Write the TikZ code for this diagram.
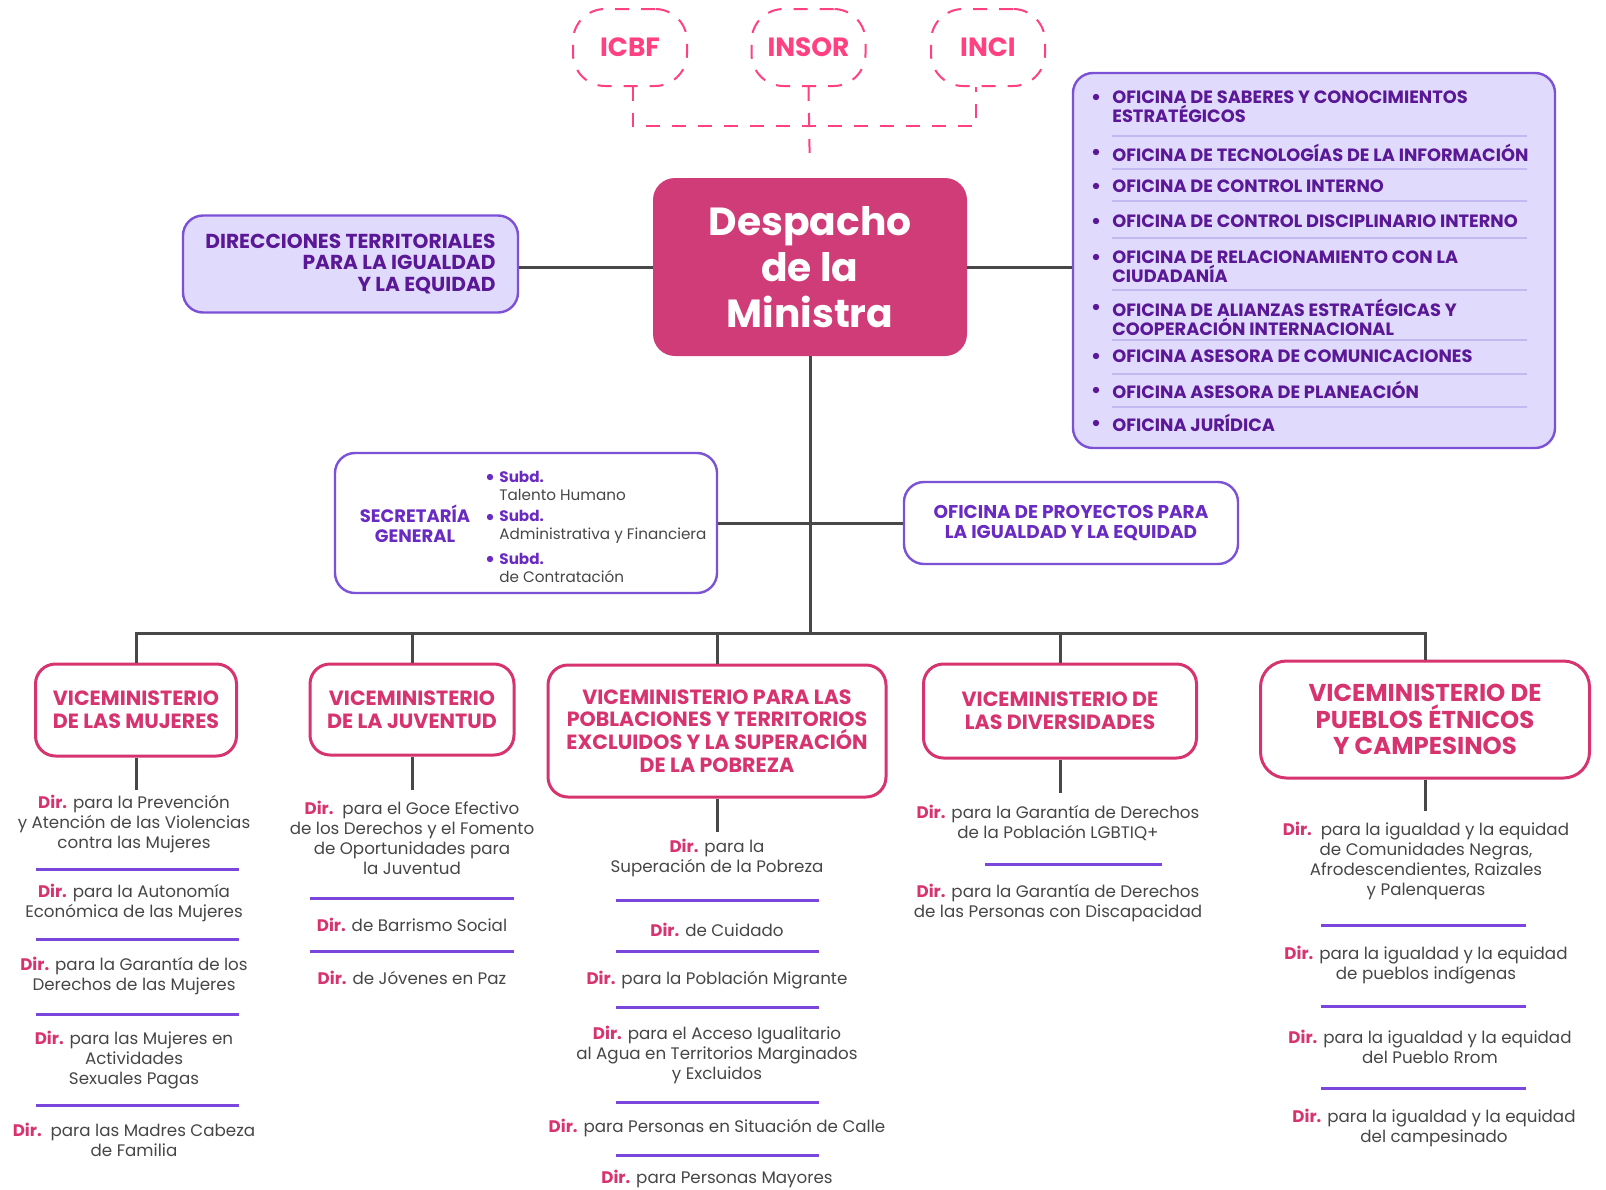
\documentclass[tikz,border=0pt]{standalone}
\usepackage{fontspec}
\setmainfont{Poppins}
\usetikzlibrary{positioning}

\definecolor{rosa}{RGB}{214,51,111}
\definecolor{fucsia}{RGB}{208,60,120}
\definecolor{rosaviva}{RGB}{255,64,129}
\definecolor{morado}{RGB}{90,24,150}
\definecolor{violeta}{RGB}{106,43,194}
\definecolor{borde}{RGB}{123,82,214}
\definecolor{lila}{RGB}{224,218,252}
\definecolor{gris}{RGB}{70,70,70}
\definecolor{grafito}{RGB}{72,72,72}
\definecolor{violetaraya}{RGB}{122,70,220}
\definecolor{lilaraya}{RGB}{196,184,240}

\newcommand{\dirn}{\textcolor{rosa}{\bfseries Dir.}}

\begin{document}
\begin{tikzpicture}[x=0.5pt, y=-0.5pt,
	ente/.style={draw=rosaviva, line width=1pt, dash pattern=on 7pt off 6pt, rounded corners=16pt,
		minimum width=57pt, minimum height=38.5pt, inner sep=0pt, text=rosaviva, font=\bfseries\fontsize{13.2}{15}\selectfont},
	guion/.style={draw=rosaviva, line width=1pt, dash pattern=on 7pt off 6pt},
	enlace/.style={draw=grafito, line width=1.5pt},
	cajalila/.style={draw=borde, fill=lila, line width=1.2pt, rounded corners=10pt, text=morado, inner sep=0pt},
	cajablanca/.style={draw=borde, fill=white, line width=1.2pt, rounded corners=10pt, text=violeta, inner sep=0pt},
	vice/.style={draw=rosa, fill=white, line width=1.5pt, rounded corners=10pt, text=rosa, align=center,
		inner sep=0pt, font=\bfseries\fontsize{10.3}{11.3}\selectfont},
	ofi/.style={anchor=west, align=left, inner sep=0pt, text=morado, font=\bfseries\fontsize{8.9}{9.6}\selectfont},
	subd/.style={anchor=west, align=left, inner sep=0pt, text=gris, font=\fontsize{7.6}{9}\selectfont},
	dir/.style={align=center, inner sep=0pt, text=gris, font=\fontsize{8.35}{10}\selectfont},
	separador/.style={draw=violetaraya, line width=1.5pt},
	separadorfino/.style={draw=lilaraya, line width=0.6pt}]
	%\draw[help lines] (0,0) grid[step=100] (1606,1189);
	\path[fill=white, use as bounding box] (0,0) rectangle (1606,1189);

	% despacho y entes adscritos
	\node[fill=fucsia, rounded corners=11pt, minimum width=157pt, minimum height=89pt, inner sep=0pt,
		text=white, align=center, font=\bfseries\fontsize{19.6}{23}\selectfont] (desp) at (810,267) {Despacho\\de la\\Ministra};
	\node[ente] (icbf) at (630,47.5) {ICBF};
	\node[ente] (insor) at (808.5,47.5) {INSOR};
	\node[ente] (inci) at (988,47.5) {INCI};
	\draw[guion] ([xshift=1.5pt]icbf.south) -- ++(0,39) -| ([xshift=-6pt]inci.south);
	\draw[guion, shorten >=6.5pt] (insor.south) -- (desp.north);

	% lados del despacho
	\node[cajalila, minimum width=167.5pt, minimum height=48.5pt, align=right,
		font=\bfseries\fontsize{10.1}{10.6}\selectfont] (dirt) at (350.5,264) {DIRECCIONES TERRITORIALES\\PARA LA IGUALDAD\\Y LA EQUIDAD};
	\node[cajalila, minimum width=241pt, minimum height=187.5pt] (ofic) at (1314,260.5) {};
	\draw[enlace] (desp.west) -- (desp.west -| dirt.east);
	\draw[enlace] (desp.east) -- (desp.east -| ofic.west);

	\fill[morado] (1096,97) circle (1.6pt) (1096,152) circle (1.6pt) (1096,186) circle (1.6pt)
		(1096,221) circle (1.6pt) (1096,257) circle (1.6pt) (1096,307) circle (1.6pt)
		(1096,356) circle (1.6pt) (1096,390) circle (1.6pt) (1096,423) circle (1.6pt);
	\draw[separadorfino] (1112,136) -- +(415,0) (1112,169) -- +(415,0) (1112,201) -- +(415,0)
		(1112,238) -- +(415,0) (1112,290) -- +(415,0) (1112,340) -- +(415,0)
		(1112,374) -- +(415,0) (1112,407) -- +(415,0);
	\path
		(1112,107) node[ofi] (of1) {OFICINA DE SABERES Y CONOCIMIENTOS\\ESTRATÉGICOS}
		(1112,153) node[ofi] (of2) {OFICINA DE TECNOLOGÍAS DE LA INFORMACIÓN}
		(1112,186) node[ofi] (of3) {OFICINA DE CONTROL INTERNO}
		(1112,221) node[ofi] (of4) {OFICINA DE CONTROL DISCIPLINARIO INTERNO}
		(1112,266.5) node[ofi] (of5) {OFICINA DE RELACIONAMIENTO CON LA\\CIUDADANÍA}
		(1112,317) node[ofi] (of6) {OFICINA DE ALIANZAS ESTRATÉGICAS Y\\COOPERACIÓN INTERNACIONAL}
		(1112,356) node[ofi] (of7) {OFICINA ASESORA DE COMUNICACIONES}
		(1112,390) node[ofi] (of8) {OFICINA ASESORA DE PLANEACIÓN}
		(1112,423) node[ofi] (of9) {OFICINA JURÍDICA}
	;

	% secretaria y proyectos
	\coordinate (bus) at (810,633);
	\draw[enlace] (desp.south) -- (bus);
	\node[cajablanca, minimum width=191pt, minimum height=70pt] (secgen) at (526,523) {};
	\node[cajablanca, minimum width=167pt, minimum height=41pt, align=center,
		font=\bfseries\fontsize{9.25}{10}\selectfont] (proy) at (1071,523) {OFICINA DE PROYECTOS PARA\\LA IGUALDAD Y LA EQUIDAD};
	\draw[enlace] (secgen.east) -- (proy.west);
	\node[text=violeta, align=center, inner sep=0pt, font=\bfseries\fontsize{9}{10}\selectfont] (sgt) at (415,524) {SECRETARÍA\\GENERAL};
	\fill[violeta] (490,477) circle (1.6pt) (490,517) circle (1.6pt) (490,559) circle (1.6pt);
	\path
		(499,486) node[subd] (sb1) {\textcolor{violeta}{\bfseries Subd.}\\Talento Humano}
		(499,526.5) node[subd] (sb2) {\textcolor{violeta}{\bfseries Subd.}\\Administrativa y Financiera}
		(499,568) node[subd] (sb3) {\textcolor{violeta}{\bfseries Subd.}\\de Contratación}
	;

	% viceministerios
	\node[vice, minimum width=100.5pt, minimum height=46pt] (vm1) at (136,710) {VICEMINISTERIO\\DE LAS MUJERES};
	\node[vice, minimum width=102pt, minimum height=45.5pt] (vm2) at (412,709.5) {VICEMINISTERIO\\DE LA JUVENTUD};
	\node[vice, minimum width=169pt, minimum height=66pt] (vm3) at (717,731) {VICEMINISTERIO PARA LAS\\POBLACIONES Y TERRITORIOS\\EXCLUIDOS Y LA SUPERACIÓN\\DE LA POBREZA};
	\node[vice, minimum width=136.5pt, minimum height=47pt] (vm4) at (1060,711) {VICEMINISTERIO DE\\LAS DIVERSIDADES};
	\node[vice, minimum width=164.5pt, minimum height=58.5pt, rounded corners=13pt,
		font=\bfseries\fontsize{12.2}{13.3}\selectfont] (vm5) at (1425,719.5) {VICEMINISTERIO DE\\PUEBLOS ÉTNICOS\\Y CAMPESINOS};
	\draw[enlace] (vm1.north) -- (vm1.north |- bus) -- (vm5.north |- bus) -- (vm5.north);
	\draw[enlace] (vm2.north) -- (vm2.north |- bus) (vm3.north) -- (vm3.north |- bus) (vm4.north) -- (vm4.north |- bus);
	\draw[enlace] (vm1.south) -- ++(0,32) (vm2.south) -- ++(0,33) (vm3.south) -- ++(0,33)
		(vm4.south) -- ++(0,33) (vm5.south) -- ++(0,31);

	% direcciones
	\draw[separador] (36,869) -- +(203,0) (36,939) -- +(203,0) (36,1014) -- +(203,0) (36,1105) -- +(203,0)
		(310,898) -- +(204,0) (310,951) -- +(204,0)
		(616,900) -- +(203,0) (616,951) -- +(203,0) (616,1007) -- +(203,0) (616,1102) -- +(203,0) (616,1155) -- +(203,0)
		(985,864) -- +(177,0)
		(1321,925) -- +(205,0) (1321,1006) -- +(205,0) (1321,1088) -- +(205,0);
	\path
		(134,824) node[dir] (mu1) {\dirn{} para la Prevención\\y Atención de las Violencias\\contra las Mujeres}
		(134,902.5) node[dir] (mu2) {\dirn{} para la Autonomía\\Económica de las Mujeres}
		(134,976) node[dir] (mu3) {\dirn{} para la Garantía de los\\Derechos de las Mujeres}
		(134,1060) node[dir] (mu4) {\dirn{} para las Mujeres en\\Actividades\\Sexuales Pagas}
		(134,1140) node[dir] (mu5) {\dirn\ \ para las Madres Cabeza\\de Familia}
		(412,837.5) node[dir] (ju1) {\dirn\ \ para el Goce Efectivo\\de los Derechos y el Fomento\\de Oportunidades para\\la Juventud}
		(412,925) node[dir] (ju2) {\dirn{} de Barrismo Social}
		(412,978) node[dir] (ju3) {\dirn{} de Jóvenes en Paz}
		(717,858) node[dir] (po1) {\dirn{} para la\\Superación de la Pobreza}
		(717,930) node[dir] (po2) {\dirn{} de Cuidado}
		(717,980) node[dir] (po3) {\dirn{} para la Población Migrante}
		(717,1054.5) node[dir] (po4) {\dirn{} para el Acceso Igualitario\\al Agua en Territorios Marginados\\y Excluidos}
		(717,1128) node[dir] (po5) {\dirn{} para Personas en Situación de Calle}
		(717,1179) node[dir] (po6) {\dirn{} para Personas Mayores}
		(1058,822.5) node[dir] (di1) {\dirn{} para la Garantía de Derechos\\de la Población LGBTIQ+}
		(1058,902.5) node[dir] (di2) {\dirn{} para la Garantía de Derechos\\de las Personas con Discapacidad}
		(1426,861) node[dir] (pe1) {\dirn\ \ para la igualdad y la equidad\\de Comunidades Negras,\\Afrodescendientes, Raizales\\y Palenqueras}
		(1426,965) node[dir] (pe2) {\dirn{} para la igualdad y la equidad\\de pueblos indígenas}
		(1430,1046.5) node[dir] (pe3) {\dirn{} para la igualdad y la equidad\\del Pueblo Rrom}
		(1434,1127.5) node[dir] (pe4) {\dirn{} para la igualdad y la equidad\\del campesinado}
	;
\end{tikzpicture}
\end{document}
